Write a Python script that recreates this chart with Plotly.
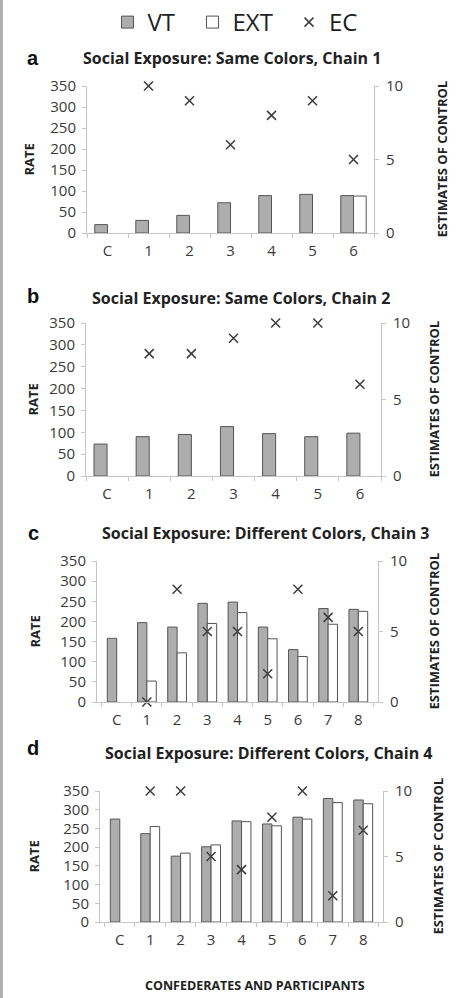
import plotly.graph_objects as go

W, H = 465, 998

# ---------------- data ----------------
cats_a = ["C", "1", "2", "3", "4", "5", "6"]
vt_a = [20, 30, 42, 72, 89, 92, 89]
ext_a = [None, None, None, None, None, None, 88]
ec_a = [None, 10, 9, 6, 8, 9, 5]

cats_b = ["C", "1", "2", "3", "4", "5", "6"]
vt_b = [73, 90, 95, 113, 97, 90, 98]
ext_b = [None, None, None, None, None, None, None]
ec_b = [None, 8, 8, 9, 10, 10, 6]

cats_c = ["C", "1", "2", "3", "4", "5", "6", "7", "8"]
vt_c = [158, 197, 186, 245, 248, 186, 130, 232, 230]
ext_c = [None, 52, 122, 195, 222, 157, 113, 193, 225]
ec_c = [None, 0, 8, 5, 5, 2, 8, 6, 5]

cats_d = ["C", "1", "2", "3", "4", "5", "6", "7", "8"]
vt_d = [275, 236, 176, 201, 270, 262, 280, 330, 326]
ext_d = [None, 255, 184, 206, 268, 257, 275, 319, 316]
ec_d = [None, 10, 10, 5, 4, 8, 10, 2, 7]

letters = ["a", "b", "c", "d"]
titles = [
    "Social Exposure: Same Colors, Chain 1",
    "Social Exposure: Same Colors, Chain 2",
    "Social Exposure: Different Colors, Chain 3",
    "Social Exposure: Different Colors, Chain 4",
]
rate_ticks = [0, 50, 100, 150, 200, 250, 300, 350]
ec_ticks = [0, 5, 10]

panels = [
    (cats_a, vt_a, ext_a, ec_a),
    (cats_b, vt_b, ext_b, ec_b),
    (cats_c, vt_c, ext_c, ec_c),
    (cats_d, vt_d, ext_d, ec_d),
]

# ---------------- layout geometry (pixels) ----------------
# (x_left, x_right, y_top, y_bottom)
boxes = [
    (87, 374, 86, 233),
    (86, 381, 323, 476),
    (97, 378, 561, 702),
    (100, 383, 791, 922),
]
title_pos = [(232, 58), (241, 298), (265, 533), (268, 753)]
letter_y = [58, 296, 533, 748]
rate_x = [28, 32, 34, 33]
ec_title_x = [441, 433, 433, 437]
legend_x = {"VT": 107.5, "EXT": 192.5, "EC": 289}
legend_names = {"VT": "legend", "EXT": "legend2", "EC": "legend3"}

def px(x):
    return x / W

def py(y):
    return 1 - y / H

AX = "#c6c6c6"
TXT = "#3a3a3a"
FONT = "Open Sans"

fig = go.Figure()
layout = {}
annotations = []

for i, (cats, vt, ext, ec) in enumerate(panels):
    xk = "x" if i == 0 else f"x{i+1}"
    yl = f"y{2*i+1}" if i > 0 else "y"
    yr = f"y{2*i+2}"
    show = i == 0
    fig.add_trace(go.Bar(
        x=cats, y=vt, name="VT", xaxis=xk, yaxis=yl, showlegend=show,
        legend=legend_names["VT"], legendgroup="VT", offsetgroup="VT",
        marker=dict(color="#adadad", line=dict(color="#555555", width=1)),
    ))
    fig.add_trace(go.Bar(
        x=cats, y=ext, name="EXT", xaxis=xk, yaxis=yl, showlegend=show,
        legend=legend_names["EXT"], legendgroup="EXT", offsetgroup="EXT",
        marker=dict(color="#ffffff", line=dict(color="#555555", width=1)),
    ))
    fig.add_trace(go.Scatter(
        x=cats, y=ec, name="EC", xaxis=xk, yaxis=yr, showlegend=show,
        legend=legend_names["EC"], legendgroup="EC", mode="markers",
        cliponaxis=False,
        marker=dict(symbol="x-thin-open", size=9, color="#3c3c3c",
                    line=dict(color="#3c3c3c", width=1.5)),
    ))

    x0, x1, y0, y1 = boxes[i]
    xname = "xaxis" if i == 0 else f"xaxis{i+1}"
    ylname = "yaxis" if i == 0 else f"yaxis{2*i+1}"
    yrname = f"yaxis{2*i+2}"
    layout[xname] = dict(
        domain=[px(x0), px(x1)], anchor=yl, type="category",
        tickson="boundaries", ticks="outside", ticklen=4, tickcolor=AX,
        showline=True, linecolor=AX, linewidth=1, showgrid=False,
        ticklabelstandoff=4, automargin=False,
        tickfont=dict(family=FONT, size=15, color=TXT),
        fixedrange=True,
    )
    layout[ylname] = dict(
        domain=[py(y1), py(y0)], anchor=xk, range=[0, 350],
        tickvals=rate_ticks, ticks="outside", ticklen=4, tickcolor=AX,
        showline=True, linecolor=AX, linewidth=1, showgrid=False,
        ticklabelstandoff=3, automargin=False,
        zeroline=False, tickfont=dict(family=FONT, size=15, color=TXT),
        fixedrange=True,
    )
    layout[yrname] = dict(
        overlaying=yl, side="right", anchor=xk, range=[0, 10],
        tickvals=ec_ticks, ticks="outside", ticklen=4, tickcolor=AX,
        showline=True, linecolor=AX, linewidth=1, showgrid=False,
        ticklabelstandoff=4, automargin=False,
        zeroline=False, tickfont=dict(family=FONT, size=15, color=TXT),
        fixedrange=True,
    )

    # panel letter
    annotations.append(dict(
        x=px(33), y=py(letter_y[i]), xref="paper", yref="paper",
        text=f"<b>{letters[i]}</b>", showarrow=False, xanchor="center",
        yanchor="middle", font=dict(family="Liberation Sans", size=20, color="#111111"),
    ))
    # title
    tx, ty = title_pos[i]
    annotations.append(dict(
        x=px(tx), y=py(ty), xref="paper", yref="paper",
        text=f"<b>{titles[i]}</b>", showarrow=False, xanchor="center",
        yanchor="middle", font=dict(family=FONT, size=16, color="#222222"),
    ))
    # left axis title
    annotations.append(dict(
        x=px(rate_x[i]), y=py((y0 + y1) / 2), xref="paper", yref="paper",
        text="<b>RATE</b>", showarrow=False, textangle=-90,
        xanchor="center", yanchor="middle",
        font=dict(family=FONT, size=13, color="#222222"),
    ))
    # right axis title
    annotations.append(dict(
        x=px(ec_title_x[i]), y=py((y0 + y1) / 2), xref="paper", yref="paper",
        text="<b>ESTIMATES OF CONTROL</b>", showarrow=False, textangle=-90,
        xanchor="center", yanchor="middle",
        font=dict(family=FONT, size=13, color="#222222"),
    ))

annotations.append(dict(
    x=px(255), y=py(985), xref="paper", yref="paper",
    text="<b>CONFEDERATES AND PARTICIPANTS</b>", showarrow=False,
    xanchor="center", yanchor="middle",
    font=dict(family=FONT, size=12.5, color="#222222"),
))

def legend_cfg(name):
    return dict(
        orientation="h", xref="container", yref="container",
        x=px(legend_x[name]), xanchor="left",
        y=1, yanchor="top",
        font=dict(family=FONT, size=24, color="#222222"),
        itemsizing="trace", bgcolor="rgba(0,0,0,0)",
    )

fig.update_layout(
    width=W, height=H,
    margin=dict(l=0, r=0, t=0, b=0, autoexpand=False),
    paper_bgcolor="white", plot_bgcolor="white",
    barmode="group", bargap=0.38, bargroupgap=0,
    annotations=annotations,
    legend=legend_cfg("VT"),
    legend2=legend_cfg("EXT"),
    legend3=legend_cfg("EC"),
    shapes=[dict(type="line", xref="paper", yref="paper",
                 x0=px(1.5), x1=px(1.5), y0=0, y1=1,
                 line=dict(color="#b0b0b0", width=3))],
    **layout,
)

fig.write_html("out.html")
